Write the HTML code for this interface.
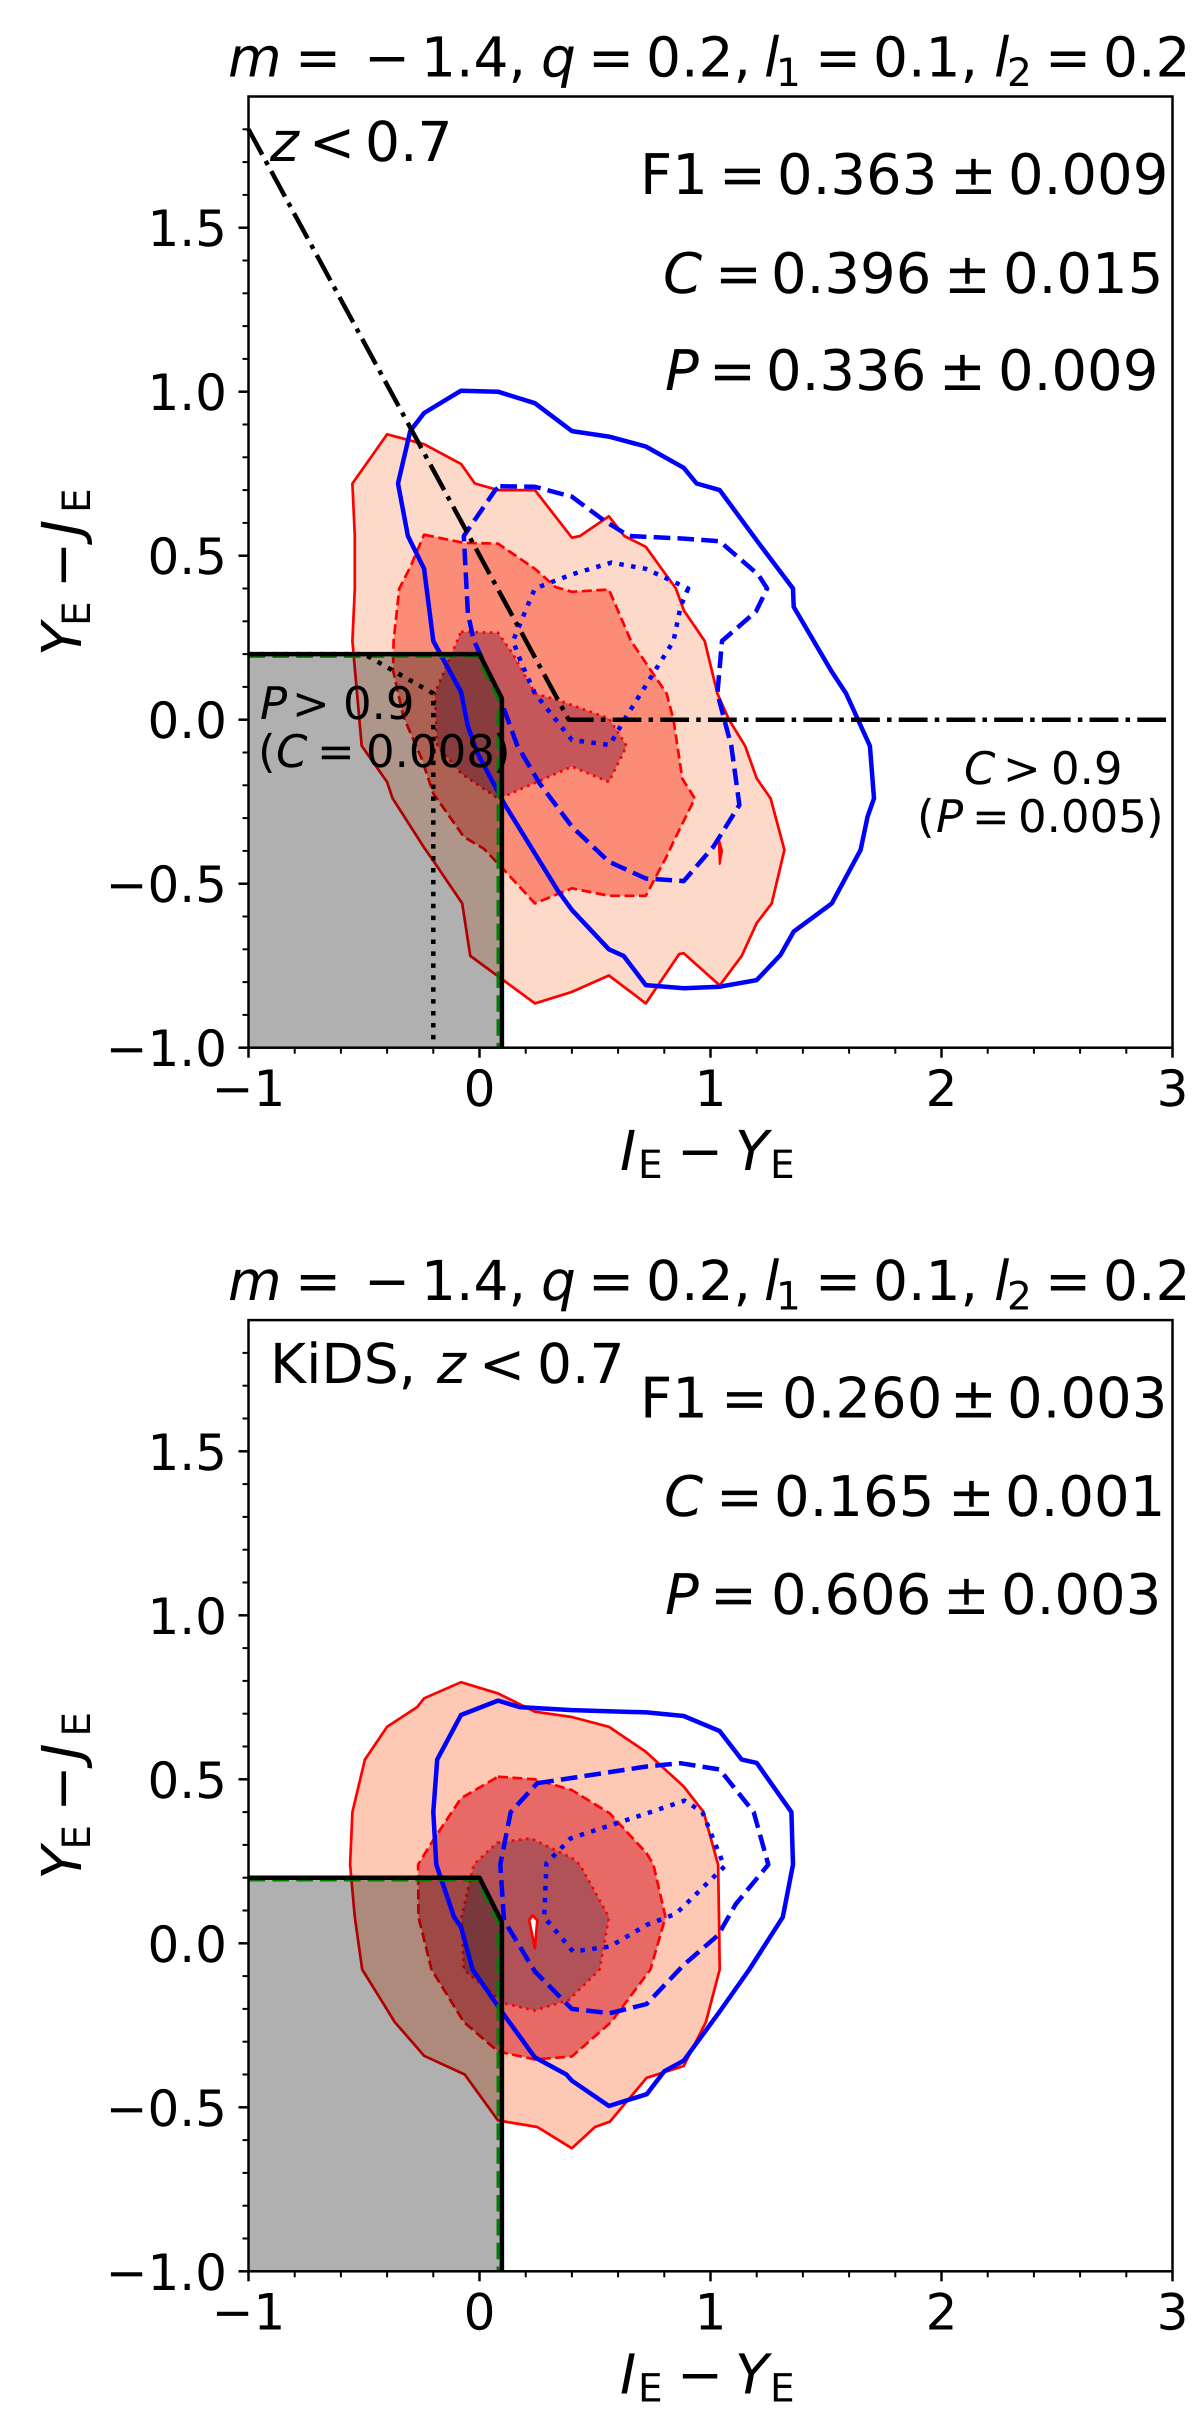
<!DOCTYPE html>
<html lang="en">
<head>
<meta charset="utf-8">
<title>Colour-colour selection contours</title>
<style>
html,body{margin:0;padding:0;background:#fff}
svg{display:block}
text{font-family:"DejaVu Sans","Liberation Sans",sans-serif;fill:#000;text-rendering:geometricPrecision}
.it{font-style:italic}
.f55{font-size:55px}
.f56{font-size:56px}
.f45{font-size:45px}
.sub{font-size:39px}
.tick{font-size:50px}
</style>
</head>
<body>
<svg id="figure" xmlns="http://www.w3.org/2000/svg" width="1200" height="2414" viewBox="0 0 1200 2414">
  <rect width="1200" height="2414" fill="#fff"/>

  <g id="panel-top"></g>
  <g id="panel-bottom" transform="translate(0,1223.6)"></g>

  <!-- Top panel text -->
  <g>
    <text class="f55" y="76.5"><tspan class="it" x="228">m</tspan><tspan x="295">=</tspan><tspan x="364">−</tspan><tspan x="421">1.4,</tspan><tspan class="it" x="541">q</tspan><tspan x="588">=</tspan><tspan x="646">0.2,</tspan><tspan class="it" x="764">l</tspan><tspan class="sub" x="776" y="86">1</tspan><tspan x="815" y="76.5">=</tspan><tspan x="873">0.1,</tspan><tspan class="it" x="994">l</tspan><tspan class="sub" x="1007" y="86">2</tspan><tspan x="1045" y="76.5">=</tspan><tspan x="1103">0.2</tspan></text>
    <text class="f55" y="161"><tspan class="it" x="270">z</tspan><tspan x="309">&lt;</tspan><tspan x="365">0.7</tspan></text>
    <text class="f56" y="194"><tspan x="640">F1</tspan><tspan x="719">=</tspan><tspan x="777">0.363</tspan><tspan x="950">±</tspan><tspan x="1008">0.009</tspan></text>
    <text class="f56" y="293"><tspan class="it" x="663">C</tspan><tspan x="715">=</tspan><tspan x="771">0.396</tspan><tspan x="944">±</tspan><tspan x="1003">0.015</tspan></text>
    <text class="f56" y="390"><tspan class="it" x="665">P</tspan><tspan x="709">=</tspan><tspan x="766">0.336</tspan><tspan x="939">±</tspan><tspan x="998">0.009</tspan></text>
    <text class="f45" y="719"><tspan class="it" x="260">P</tspan><tspan x="292">&gt;</tspan><tspan x="343">0.9</tspan></text>
    <text class="f45" y="767"><tspan x="258">(</tspan><tspan class="it" x="276">C</tspan><tspan x="317">=</tspan><tspan x="366">0.008</tspan><tspan x="493">)</tspan></text>
    <text class="f45" y="784"><tspan class="it" x="964">C</tspan><tspan x="1003">&gt;</tspan><tspan x="1051">0.9</tspan></text>
    <text class="f45" y="832"><tspan x="917">(</tspan><tspan class="it" x="936">P</tspan><tspan x="972">=</tspan><tspan x="1018">0.005</tspan><tspan x="1146">)</tspan></text>
    <text class="f55" y="1170"><tspan class="it" x="620">I</tspan><tspan class="sub" x="638" y="1178">E</tspan><tspan x="677" y="1170">−</tspan><tspan class="it" x="735">Y</tspan><tspan class="sub" x="770" y="1178">E</tspan></text>
    <text class="f55" transform="translate(81,656) rotate(-90)" y="0"><tspan class="it" x="0">Y</tspan><tspan class="sub" x="30" y="9">E</tspan><tspan x="68" y="0">−</tspan><tspan class="it" x="120">J</tspan><tspan class="sub" x="143" y="9">E</tspan></text>
  </g>

  <!-- Bottom panel text -->
  <g transform="translate(0,1223.6)">
    <text class="f55" y="76.5"><tspan class="it" x="228">m</tspan><tspan x="295">=</tspan><tspan x="364">−</tspan><tspan x="421">1.4,</tspan><tspan class="it" x="541">q</tspan><tspan x="588">=</tspan><tspan x="646">0.2,</tspan><tspan class="it" x="764">l</tspan><tspan class="sub" x="776" y="86">1</tspan><tspan x="815" y="76.5">=</tspan><tspan x="873">0.1,</tspan><tspan class="it" x="994">l</tspan><tspan class="sub" x="1007" y="86">2</tspan><tspan x="1045" y="76.5">=</tspan><tspan x="1103">0.2</tspan></text>
    <text class="f55" y="159.4"><tspan x="270">KiDS,</tspan><tspan class="it" x="437">z</tspan><tspan x="479">&lt;</tspan><tspan x="537">0.7</tspan></text>
    <text class="f56" y="194"><tspan x="640">F1</tspan><tspan x="721">=</tspan><tspan x="782">0.260</tspan><tspan x="950">±</tspan><tspan x="1007">0.003</tspan></text>
    <text class="f56" y="292.5"><tspan class="it" x="664">C</tspan><tspan x="716">=</tspan><tspan x="774">0.165</tspan><tspan x="948">±</tspan><tspan x="1005">0.001</tspan></text>
    <text class="f56" y="390.5"><tspan class="it" x="665">P</tspan><tspan x="710">=</tspan><tspan x="771">0.606</tspan><tspan x="943">±</tspan><tspan x="1001">0.003</tspan></text>
    <text class="f55" y="1170"><tspan class="it" x="620">I</tspan><tspan class="sub" x="638" y="1178">E</tspan><tspan x="677" y="1170">−</tspan><tspan class="it" x="735">Y</tspan><tspan class="sub" x="770" y="1178">E</tspan></text>
    <text class="f55" transform="translate(81,656) rotate(-90)" y="0"><tspan class="it" x="0">Y</tspan><tspan class="sub" x="30" y="9">E</tspan><tspan x="68" y="0">−</tspan><tspan class="it" x="120">J</tspan><tspan class="sub" x="143" y="9">E</tspan></text>
  </g>
</svg>

<script>
// ----- Axis ticks -----
const xTickValues = [-1, 0, 1, 2, 3];
const xTickLabels = ['−1', '0', '1', '2', '3'];
const yTickValues = [-1, -0.5, 0, 0.5, 1, 1.5];
const yTickLabels = ['−1.0', '−0.5', '0.0', '0.5', '1.0', '1.5'];
const xMinorTicks = [-0.8,-0.6,-0.4,-0.2,0.2,0.4,0.6,0.8,1.2,1.4,1.6,1.8,2.2,2.4,2.6,2.8];
const yMinorTicks = [-0.9,-0.8,-0.7,-0.6,-0.4,-0.3,-0.2,-0.1,0.1,0.2,0.3,0.4,0.6,0.7,0.8,0.9,1.1,1.2,1.3,1.4,1.6,1.7,1.8];

// ----- Selection lines (shared) -----
const selectionRegion = [[-1,-1],[-1,0.2],[0,0.2],[0.09,0.07],[0.09,-1]];
const selectionOutline = [[-1,0.2],[0,0.2],[0.097,0.065],[0.097,-1]];
const selectionGreen = [[-1,0.193],[-0.01,0.193],[0.08,0.065],[0.08,-1]];

// ----- Top panel contours -----
const topCompletenessCut = [[-1,1.8],[0.386,0],[3,0]];
const topPurityCut = [[-1,0.2],[-0.5,0.2],[-0.2,0.08],[-0.2,-0.99]];
const topRedOuter = [[-0.55,0.72],[-0.40,0.87],[-0.24,0.84],[-0.08,0.78],[-0.02,0.72],[0.08,0.70],[0.24,0.70],[0.40,0.555],[0.435,0.56],[0.56,0.62],[0.627,0.56],[0.72,0.527],[0.85,0.40],[0.885,0.333],[0.975,0.24],[1.03,0.08],[1.08,0],[1.15,-0.08],[1.20,-0.179],[1.26,-0.24],[1.32,-0.397],[1.265,-0.56],[1.20,-0.62],[1.135,-0.72],[1.04,-0.81],[0.884,-0.712],[0.865,-0.714],[0.72,-0.865],[0.56,-0.78],[0.40,-0.83],[0.24,-0.865],[-0.04,-0.72],[-0.075,-0.56],[-0.2,-0.43],[-0.24,-0.39],[-0.376,-0.24],[-0.40,-0.19],[-0.51,-0.08],[-0.55,0.24],[-0.54,0.40],[-0.54,0.56]];
const topRedMid = [[-0.24,0.564],[-0.068,0.539],[0.08,0.537],[0.24,0.46],[0.328,0.405],[0.40,0.39],[0.56,0.397],[0.656,0.24],[0.81,0.08],[0.84,0],[0.878,-0.18],[0.932,-0.24],[0.84,-0.372],[0.81,-0.417],[0.72,-0.537],[0.56,-0.537],[0.40,-0.514],[0.24,-0.56],[0.106,-0.458],[0.02,-0.394],[-0.068,-0.357],[-0.2,-0.225],[-0.25,-0.12],[-0.33,0.01],[-0.374,0.15],[-0.372,0.24],[-0.347,0.40],[-0.3,0.465]];
const topRedIsland = [[1.035,-0.36],[1.05,-0.40],[1.04,-0.44]];
const topRedInner = [[-0.08,0.268],[0.08,0.265],[0.145,0.2],[0.24,0.08],[0.338,0.06],[0.56,0.004],[0.637,-0.08],[0.56,-0.19],[0.40,-0.143],[0.106,-0.234],[0.08,-0.24],[-0.08,-0.163],[-0.183,-0.08],[-0.193,0.08]];
const topBlueOuter = [[-0.08,1.003],[0.08,1.0],[0.24,0.965],[0.40,0.88],[0.56,0.863],[0.72,0.833],[0.884,0.768],[0.94,0.72],[1.04,0.70],[1.207,0.54],[1.357,0.40],[1.36,0.344],[1.525,0.146],[1.587,0.08],[1.69,-0.08],[1.708,-0.24],[1.68,-0.295],[1.65,-0.397],[1.525,-0.56],[1.36,-0.646],[1.303,-0.717],[1.20,-0.794],[1.04,-0.814],[0.884,-0.819],[0.72,-0.809],[0.624,-0.72],[0.56,-0.70],[0.40,-0.58],[0.338,-0.52],[0.106,-0.255],[-0.01,-0.10],[-0.05,-0.02],[-0.08,0.085],[-0.2,0.24],[-0.24,0.46],[-0.31,0.56],[-0.353,0.72],[-0.3,0.88],[-0.24,0.935]];
const topBlueMid = [[0.09,0.712],[0.24,0.71],[0.40,0.68],[0.54,0.607],[0.647,0.56],[0.884,0.552],[1.04,0.544],[1.207,0.442],[1.245,0.40],[1.197,0.33],[1.05,0.24],[1.03,0.08],[1.09,-0.08],[1.125,-0.26],[1.013,-0.387],[0.884,-0.492],[0.72,-0.484],[0.56,-0.433],[0.40,-0.326],[0.26,-0.194],[0.164,-0.08],[0.097,0.05],[-0.025,0.243],[-0.05,0.324],[-0.068,0.56],[0.068,0.70]];
const topBlueInner = [[0.903,0.40],[0.87,0.344],[0.84,0.24],[0.725,0.11],[0.627,0],[0.564,-0.077],[0.40,-0.062],[0.24,0.08],[0.183,0.17],[0.145,0.24],[0.212,0.354],[0.24,0.40],[0.40,0.443],[0.57,0.479],[0.72,0.46]];

// ----- Bottom panel contours -----
const bottomRedOuter = [[-0.08,0.796],[0.08,0.762],[0.24,0.706],[0.40,0.69],[0.56,0.66],[0.72,0.584],[0.884,0.478],[0.97,0.40],[1.033,0.24],[1.037,0.08],[1.04,-0.08],[0.98,-0.24],[0.884,-0.374],[0.724,-0.41],[0.564,-0.544],[0.5,-0.56],[0.40,-0.625],[0.25,-0.56],[0.08,-0.54],[-0.064,-0.40],[-0.24,-0.343],[-0.367,-0.24],[-0.508,-0.08],[-0.54,0.08],[-0.56,0.24],[-0.55,0.40],[-0.496,0.56],[-0.40,0.66],[-0.27,0.72],[-0.24,0.747]];
const bottomRedMid = [[0.08,0.508],[0.24,0.5],[0.40,0.467],[0.564,0.396],[0.724,0.274],[0.753,0.24],[0.805,0.08],[0.74,-0.08],[0.57,-0.24],[0.40,-0.345],[0.24,-0.354],[0.08,-0.33],[-0.068,-0.24],[-0.208,-0.08],[-0.264,0.08],[-0.266,0.24],[-0.2,0.315],[-0.08,0.442]];
const bottomRedInner = [[0.077,0.307],[0.222,0.32],[0.40,0.26],[0.434,0.24],[0.56,0.08],[0.52,-0.08],[0.386,-0.173],[0.24,-0.205],[0.106,-0.183],[-0.068,-0.08],[-0.077,0.08],[-0.025,0.24]];
const bottomRedHole = [[0.23,0.085],[0.215,0.07],[0.24,-0.015],[0.25,0.07]];
const bottomBlueOuter = [[0.08,0.74],[0.174,0.72],[0.40,0.711],[0.724,0.704],[0.884,0.693],[1.04,0.647],[1.135,0.56],[1.2,0.55],[1.35,0.40],[1.357,0.24],[1.313,0.08],[1.168,-0.08],[1.04,-0.208],[0.884,-0.358],[0.8,-0.39],[0.724,-0.46],[0.56,-0.496],[0.40,-0.419],[0.376,-0.40],[0.24,-0.348],[0.106,-0.218],[-0.03,-0.08],[-0.08,0.05],[-0.11,0.08],[-0.187,0.24],[-0.2,0.40],[-0.183,0.56],[-0.08,0.696]];
const bottomBlueMid = [[0.25,0.488],[0.724,0.539],[0.87,0.549],[1.04,0.53],[1.187,0.40],[1.25,0.24],[1.11,0.12],[1.033,0.025],[0.884,-0.066],[0.724,-0.185],[0.564,-0.213],[0.40,-0.2],[0.24,-0.086],[0.106,0.07],[0.09,0.24],[0.135,0.40]];
const bottomBlueInner = [[1.06,0.234],[0.85,0.09],[0.724,0.056],[0.564,-0.01],[0.405,-0.025],[0.28,0.08],[0.29,0.244],[0.395,0.32],[0.724,0.396],[0.888,0.435],[0.965,0.40]];

// ----- Axis functions -----
const X0 = 479.5, XU = 231, Y0 = 719.7, YU = 328;
const sx = v => X0 + XU * v;
const sy = v => Y0 - YU * v;
const NS = 'http://www.w3.org/2000/svg';
const LW = 4.5;
const DASHED = (LW*3.7)+' '+(LW*1.6);
const DOTTED = LW+' '+(LW*1.65);
const DASHDOT = (LW*6.4)+' '+(LW*1.6)+' '+LW+' '+(LW*1.6);

function pathD(pts, closed) {
  return pts.map((p, i) => (i ? 'L' : 'M') + sx(p[0]).toFixed(1) + ' ' + sy(p[1]).toFixed(1)).join('') + (closed ? 'Z' : '');
}
function mark(parent, name, pts, closed, fill, stroke, width, dash, opacity) {
  const el = document.createElementNS(NS, 'path');
  
  
  el.setAttribute('d', pathD(pts, closed));
  el.setAttribute('fill', fill);
  el.setAttribute('stroke', stroke);
  el.setAttribute('stroke-width', width);
  el.setAttribute('stroke-linejoin', 'round');
  if (dash) el.setAttribute('stroke-dasharray', dash);
  if (opacity) el.setAttribute('fill-opacity', opacity);
  parent.appendChild(el);
  return el;
}
function tickLine(parent, name, x1, y1, x2, y2, width) {
  const el = document.createElementNS(NS, 'line');
  
  
  el.setAttribute('x1', x1);
  el.setAttribute('y1', y1);
  el.setAttribute('x2', x2);
  el.setAttribute('y2', y2);
  el.setAttribute('stroke', '#000');
  el.setAttribute('stroke-width', width);
  parent.appendChild(el);
}
function tickText(parent, name, x, y, anchor, str) {
  const el = document.createElementNS(NS, 'text');
  
  
  el.setAttribute('class', 'tick');
  el.setAttribute('x', x);
  el.setAttribute('y', y);
  el.setAttribute('text-anchor', anchor);
  el.textContent = str;
  parent.appendChild(el);
}

function drawAxes(g) {
  const L = sx(-1), R = sx(3), B = sy(-1), T = sy(1.9);
  xMinorTicks.forEach(v => tickLine(g, 'x-minor-tick', sx(v), B, sx(v), B + 6, 2));
  yMinorTicks.forEach(v => tickLine(g, 'y-minor-tick', L - 6, sy(v), L, sy(v), 2));
  xTickValues.forEach((v, i) => {
    tickLine(g, 'x-major-tick', sx(v), B, sx(v), B + 10, 2.5);
    tickText(g, 'x-tick-label', sx(v), 1106, 'middle', xTickLabels[i]);
  });
  yTickValues.forEach((v, i) => {
    tickLine(g, 'y-major-tick', L - 10, sy(v), L, sy(v), 2.5);
    tickText(g, 'y-tick-label', 227, sy(v) + 18.5, 'end', yTickLabels[i]);
  });
  const frame = document.createElementNS(NS, 'rect');
  
  
  frame.setAttribute('x', L);
  frame.setAttribute('y', T);
  frame.setAttribute('width', R - L);
  frame.setAttribute('height', B - T);
  frame.setAttribute('fill', 'none');
  frame.setAttribute('stroke', '#000');
  frame.setAttribute('stroke-width', 2.5);
  g.appendChild(frame);
}

function drawPanel(g, c) {
  // Filled density contours
  mark(g, 'red-contour-outer', c.redOuter, true, c.fillOuter, '#ff0000', 2.7);
  mark(g, 'red-contour-middle', c.redMid, true, c.fillMid, '#ff0000', 2.7, '10 4.5');
  mark(g, 'red-contour-inner', c.redInner, true, c.fillInner, '#ff0000', 2.7, '2.7 4.5');
  if (c.redIsland) mark(g, 'red-contour-island', c.redIsland, true, '#ff0000', '#ff0000', 2);
  if (c.redHole) mark(g, 'red-contour-hole', c.redHole, true, '#ffffff', '#ff0000', 2.7);
  // Selection region shading
  mark(g, 'selection-region', selectionRegion, true, '#000000', 'none', 0, null, 0.31);
  // Blue contours
  mark(g, 'blue-contour-outer', c.blueOuter, true, 'none', '#0000ff', LW);
  mark(g, 'blue-contour-middle', c.blueMid, true, 'none', '#0000ff', LW, DASHED);
  mark(g, 'blue-contour-inner', c.blueInner, true, 'none', '#0000ff', LW, DOTTED);
  // Selection boundaries
  mark(g, 'selection-outline-green', selectionGreen, false, 'none', '#008000', 3, DASHED);
  mark(g, 'selection-outline', selectionOutline, false, 'none', '#000000', LW);
  if (c.purityCut) mark(g, 'purity-cut-line', c.purityCut, false, 'none', '#000000', LW, DOTTED);
  if (c.completenessCut) mark(g, 'completeness-cut-line', c.completenessCut, false, 'none', '#000000', LW, DASHDOT);
  drawAxes(g);
}

drawPanel(document.getElementById('panel-top'), {
  redOuter: topRedOuter, redMid: topRedMid, redInner: topRedInner, redIsland: topRedIsland,
  blueOuter: topBlueOuter, blueMid: topBlueMid, blueInner: topBlueInner,
  fillOuter: '#fdd9c9', fillMid: '#fb8d78', fillInner: '#c5575b',
  purityCut: topPurityCut, completenessCut: topCompletenessCut
});
drawPanel(document.getElementById('panel-bottom'), {
  redOuter: bottomRedOuter, redMid: bottomRedMid, redInner: bottomRedInner, redHole: bottomRedHole,
  blueOuter: bottomBlueOuter, blueMid: bottomBlueMid, blueInner: bottomBlueInner,
  fillOuter: '#fdc9b4', fillMid: '#e76a66', fillInner: '#b05258'
});
</script>
</body>
</html>
